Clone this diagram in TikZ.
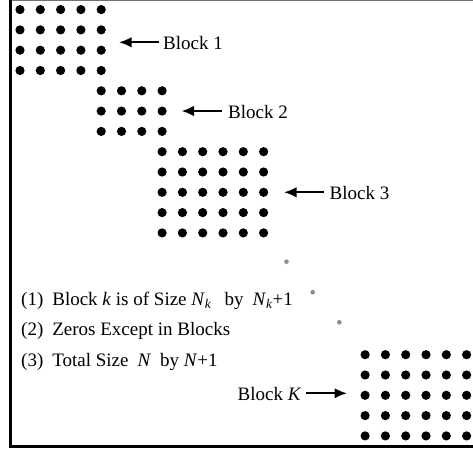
\documentclass[tikz,border=0pt]{standalone}
\usepackage{fontspec}
\setmainfont{Liberation Serif}
\usetikzlibrary{arrows.meta}
\tikzset{
  dot/.style={fill=black},
  graydot/.style={fill=black!45},
  lab/.style={inner sep=0pt, anchor=base west, font=\fontsize{19}{22}\selectfont},
  arr/.style={line width=2pt, -{Latex[length=12.5pt,width=10.5pt]}},
  frame/.style={line width=3pt}
}
\begin{document}
\begin{tikzpicture}[x=1pt,y=-1pt]
\useasboundingbox (0,0) rectangle (473,454);
% frame
\draw[black!55, line width=1pt] (10,0.5) -- (473,0.5);
\draw[frame] (10.5,0) -- (10.5,446) -- (473,446);
% blocks of dots
\def\sp{20.3}
\foreach \c/\r/\nc/\nr in {0/0/5/4, 4/4/4/3, 7/7/6/5, 17/17/6/5}{
  \foreach \i in {1,...,\nc}{
    \foreach \j in {1,...,\nr}{
      \fill[dot] ({20+(\c+\i-1)*\sp},{9.6+(\r+\j-1)*\sp}) circle (4.6);
    }
  }
}
% ellipsis dots
\fill[graydot] (286.5,261.7) circle (2.3);
\fill[graydot] (312.7,292.2) circle (2.3);
\fill[graydot] (339.3,322.3) circle (2.3);
% block labels
\node[lab] (b1) at (163,49.8) {Block 1};
\coordinate (t1) at (119,42.3);
\draw[arr] ([xshift=-4.5pt,yshift=7.5pt]b1.base west) -- (t1);
\node[lab] (b2) at (228,118.5) {Block 2};
\coordinate (t2) at (181.5,111);
\draw[arr] ([xshift=-6pt,yshift=7.5pt]b2.base west) -- (t2);
\node[lab] (b3) at (329.5,199.8) {Block 3};
\coordinate (t3) at (284,192.3);
\draw[arr] ([xshift=-6pt,yshift=7.5pt]b3.base west) -- (t3);
\node[lab, anchor=base east] (bK) at (301.5,400.8) {Block \textit{K}};
\coordinate (tK) at (347,393.3);
\draw[arr] ([xshift=4.5pt,yshift=7.5pt]bK.base east) -- (tK);
% list
\node[lab] (l1) at (21,305) {(1)\hspace{9pt}Block \textit{k} is of Size \textit{N}\textsubscript{\textit{k}}\hspace{13pt}by\hspace{9pt}\textit{N}\textsubscript{\textit{k}}+1};
\node[lab] (l2) at (21,335.7) {(2)\hspace{9pt}Zeros Except in Blocks};
\node[lab] (l3) at (21,366.3) {(3)\hspace{9pt}Total Size\hspace{9pt}\textit{N}\hspace{9pt}by \textit{N}+1};
\end{tikzpicture}
\end{document}
